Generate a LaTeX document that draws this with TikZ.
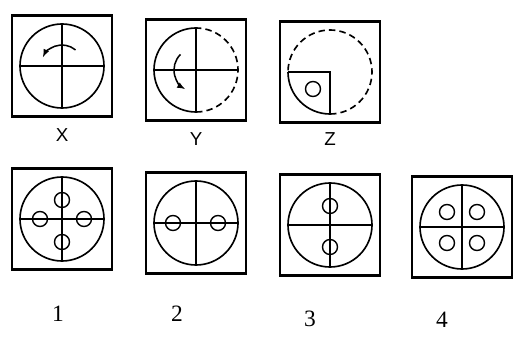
\documentclass[tikz,border=0pt]{standalone}
\usepackage{fontspec}
\newfontfamily\lettersf{Liberation Sans}
\newfontfamily\digitrm{Liberation Serif}
\usetikzlibrary{arrows, positioning}

\begin{document}
\begin{tikzpicture}[x=0.03cm, y=0.03cm, >=latex, thick,
	panel/.style={rectangle, draw, line width=2pt, minimum width=3cm, minimum height=3.03cm, inner sep=0pt},
	disc/.style={circle, draw, line width=1.4pt, minimum size=2.52cm, inner sep=0pt, outer sep=0pt},
	ghost/.style={circle, minimum size=2.52cm, inner sep=0pt, outer sep=0pt},
	hole/.style={circle, draw, line width=1.2pt, minimum size=0.45cm, inner sep=0pt},
	cross/.style={line width=1.1pt},
	rim/.style={line width=1.4pt},
	dashline/.style={line width=1.4pt, dash pattern=on 5.5pt off 3.5pt},
	turn/.style={->, line width=1.3pt},
	letter/.style={font=\lettersf\fontsize{16}{17}\selectfont, inner sep=0pt},
	number/.style={font=\digitrm\fontsize{20}{21}\selectfont, inner sep=0pt}
]

	% Frame
	\useasboundingbox (0,0) rectangle (517,337);

	% Panels
	\node[panel] (bx) at (62,271) {};
	\node[panel] (by) at (196,267) {};
	\node[panel] (bz) at (330,265) {};
	\node[panel] (b1) at (62,118) {};
	\node[panel] (b2) at (196,114) {};
	\node[panel] (b3) at (330,112) {};
	\node[panel] (b4) at (462,110) {};

	% Discs
	\node[disc] (cx) at (bx) {};
	\node[ghost] (cy) at (by) {};
	\node[ghost] (cz) at (bz) {};
	\node[disc] (c1) at (b1) {};
	\node[disc] (c2) at (b2) {};
	\node[disc] (c3) at (b3) {};
	\node[disc] (c4) at (b4) {};

	% Cross lines
	\foreach \c in {cx, cy, c1, c2, c3, c4} {
		\draw[cross] (\c.north) -- (\c.south);
		\draw[cross] (\c.west) -- (\c.east);
	}
	\draw[cross] (cz.west) -- (cz.center) -- (cz.south);

	% Half and quarter rims
	\draw[rim] (cy.north) arc[start angle=90, end angle=270, radius=1.26cm];
	\draw[dashline] (cy.south) arc[start angle=-90, end angle=90, radius=1.26cm];
	\draw[rim] (cz.west) arc[start angle=180, end angle=270, radius=1.26cm];
	\draw[dashline] (cz.south) arc[start angle=-90, end angle=180, radius=1.26cm];

	% Turn arrows
	\coordinate (tx) at ([shift={(50:21)}]cx.center);
	\coordinate (ty) at ([shift={(135:22)}]cy.center);
	\draw[turn] (tx) arc[start angle=50, end angle=155, radius=0.63cm];
	\draw[turn] (ty) arc[start angle=135, end angle=240, radius=0.66cm];

	% Holes
	\node[hole] (hz) at ([shift={(-17,-17)}]cz.center) {};
	\node[hole] (h1a) at ([shift={(0,19)}]c1.center) {};
	\node[hole] (h1b) at ([shift={(0,-23)}]c1.center) {};
	\node[hole] (h1c) at ([shift={(-22,0)}]c1.center) {};
	\node[hole] (h1d) at ([shift={(22,0)}]c1.center) {};
	\node[hole] (h2a) at ([shift={(-23,0)}]c2.center) {};
	\node[hole] (h2b) at ([shift={(22,0)}]c2.center) {};
	\node[hole] (h3a) at ([shift={(0,19)}]c3.center) {};
	\node[hole] (h3b) at ([shift={(0,-22)}]c3.center) {};
	\node[hole] (h4a) at ([shift={(-15,15)}]c4.center) {};
	\node[hole] (h4b) at ([shift={(15,15)}]c4.center) {};
	\node[hole] (h4c) at ([shift={(-15,-16)}]c4.center) {};
	\node[hole] (h4d) at ([shift={(15,-16)}]c4.center) {};

	% Labels
	\node[letter, below=0.3cm of bx] (lx) {X};
	\node[letter, below=0.3cm of by] (ly) {Y};
	\node[letter, below=0.26cm of bz] (lz) {Z};
	\node[number] (n1) at (58,23) {1};
	\node[number] (n2) at (177,23) {2};
	\node[number] (n3) at (310,18) {3};
	\node[number] (n4) at (442,17) {4};
\end{tikzpicture}
\end{document}
